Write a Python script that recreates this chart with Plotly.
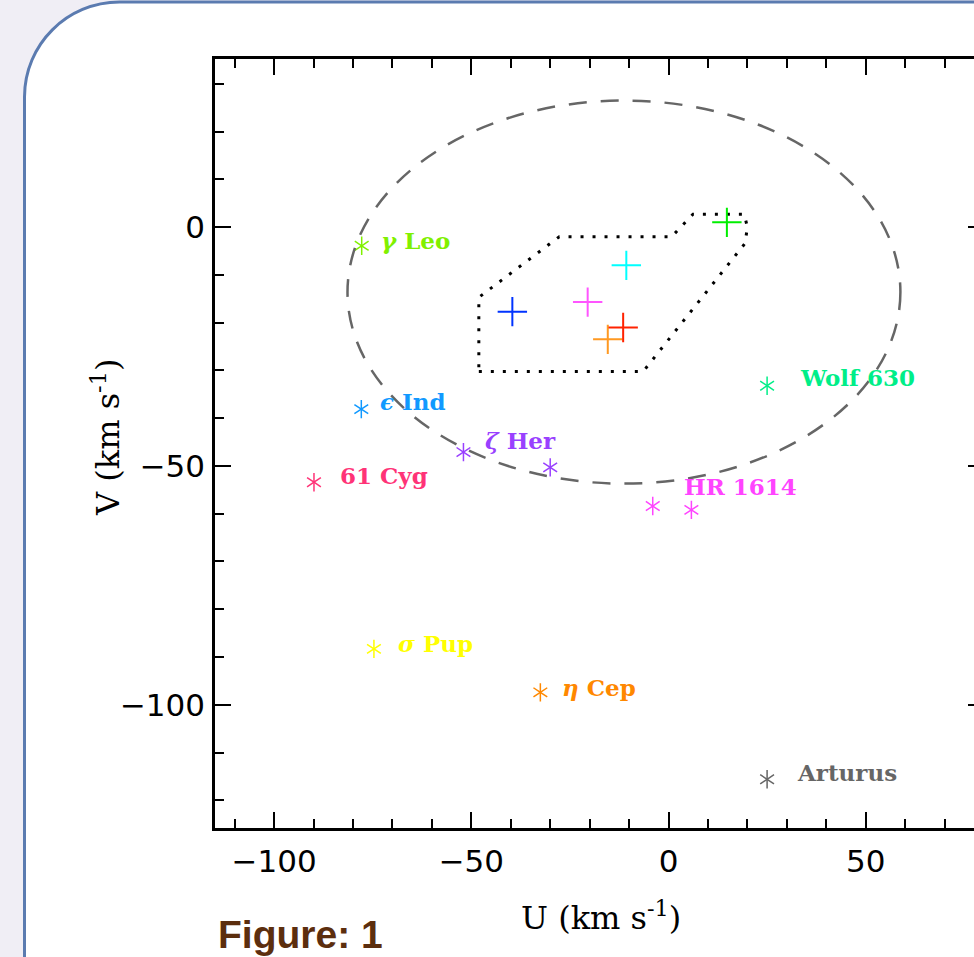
import plotly.graph_objects as go

# ---------------- data ----------------
star_labels = ["<i>γ</i> Leo", "<i>ϵ</i> Ind", "<i>ζ</i> Her", "61 Cyg", "HR 1614",
               "Wolf 630", "<i>σ</i> Pup", "<i>η</i> Cep", "Arturus"]
star_colors = ["#80f000", "#1199ff", "#9940ff", "#ff3377", "#ff44ff",
               "#00ee88", "#ffff00", "#ff8800", "#666666"]
star_u = [[-77.8], [-77.9], [-52.0, -30.0], [-89.9], [-4.0, 5.8],
          [25.0], [-74.7], [-32.5], [25.0]]
star_v = [[-3.9], [-38.1], [-47.1, -50.3], [-53.4], [-58.4, -59.2],
          [-33.2], [-88.3], [-97.4], [-115.6]]
label_u = [-73.4, -73.6, -47.0, -83.8, 3.5, 32.8, -69.1, -27.5, 32.1]
label_v = [-2.8, -36.5, -44.6, -51.9, -54.4, -31.4, -87.1, -96.3, -114.1]

cross_u = [-39.6, -20.5, -10.7, -15.4, -11.5, 14.8]
cross_v = [-17.7, -15.7, -8.0, -23.5, -21.0, 1.0]
cross_colors = ["#0033ff", "#ff55ff", "#00ffff", "#ff9922", "#ff2200", "#00ee00"]

poly_u = [-48.1, -6.4, 19.4, 20.0, 19.2, 6.2, 0.8, -27.7, -48.1, -48.1]
poly_v = [-30.2, -30.2, -3.4, 0.0, 2.7, 2.7, -2.0, -2.0, -14.7, -30.2]

ellipse_center = [-11.3, -13.6]
ellipse_semi = [70.1, 40.1]

x_range = [-115, 80]
y_range = [-125.8, 35.2]
x_tickvals = [-100, -50, 0, 50]
y_tickvals = [-100, -50, 0]

# ---------------- layout geometry ----------------
W, H = 1010, 957
ML, MT, PW, PH = 215, 59, 769, 769
MR = W - ML - PW
MB = H - MT - PH


def px2paper(px, py):
    return (px - ML) / PW, (MT + PH - py) / PH


fig = go.Figure()

# dotted region
fig.add_trace(go.Scatter(x=poly_u, y=poly_v, mode="lines",
                         line=dict(color="black", width=3, dash="3px,9px"),
                         hoverinfo="skip", showlegend=False))

# asterisks (6-armed, built from two 3-armed symbols)
all_u, all_v, all_c = [], [], []
for us, vs, c in zip(star_u, star_v, star_colors):
    for u, v in zip(us, vs):
        all_u.append(u)
        all_v.append(v)
        all_c.append(c)
for sym in ["y-up-open", "y-down-open"]:
    fig.add_trace(go.Scatter(x=all_u, y=all_v, mode="markers",
                             marker=dict(symbol=sym, size=11.5, color=all_c,
                                         line=dict(color=all_c, width=1.5)),
                             hoverinfo="skip", showlegend=False))

# crosses
for u, v, c in zip(cross_u, cross_v, cross_colors):
    fig.add_trace(go.Scatter(x=[u], y=[v], mode="markers",
                             marker=dict(symbol="cross-thin-open", size=21, color=c,
                                         line=dict(color=c, width=2)),
                             hoverinfo="skip", showlegend=False))

# dashed ellipse
fig.add_shape(type="circle", xref="x", yref="y",
              x0=ellipse_center[0] - ellipse_semi[0], x1=ellipse_center[0] + ellipse_semi[0],
              y0=ellipse_center[1] - ellipse_semi[1], y1=ellipse_center[1] + ellipse_semi[1],
              line=dict(color="#666666", width=2.5, dash="18px,14px"))

# star labels
for t, u, v, c in zip(star_labels, label_u, label_v, star_colors):
    fig.add_annotation(x=u, y=v, xref="x", yref="y", text="<b>" + t + "</b>",
                       showarrow=False, xanchor="left", yanchor="middle",
                       font=dict(family="DejaVu Serif", size=23, color=c))

# card background with rounded top-left corner
R = 95
k = 0.5523
cx0, cy0 = 24.5, 2
pts = [
    ("M", [(cx0, H + 20)]),
    ("L", [(cx0, cy0 + R)]),
    ("C", [(cx0, cy0 + R * (1 - k)), (cx0 + R * (1 - k), cy0), (cx0 + R, cy0)]),
    ("L", [(W + 20, cy0)]),
    ("L", [(W + 20, H + 20)]),
]
path = ""
for cmd, ps in pts:
    path += cmd + " ".join("%.5f,%.5f" % px2paper(a, b) for a, b in ps) + " "
path += "Z"
fig.add_shape(type="path", xref="paper", yref="paper", path=path,
              fillcolor="white", line=dict(color="#5b7bb0", width=3), layer="below")

# axis titles
ux, uy = px2paper(601, 916)
fig.add_annotation(x=ux, y=uy, xref="paper", yref="paper",
                   text="U (km s<sup>-1</sup>)", showarrow=False,
                   xanchor="center", yanchor="middle",
                   font=dict(family="DejaVu Serif", size=32, color="black"))
vx, vy = px2paper(106, 438)
fig.add_annotation(x=vx, y=vy, xref="paper", yref="paper",
                   text="V (km s<sup>-1</sup>)", showarrow=False, textangle=-90,
                   xanchor="center", yanchor="middle",
                   font=dict(family="DejaVu Serif", size=32, color="black"))

fx, fy = px2paper(216, 934)
fig.add_annotation(x=fx, y=fy, xref="paper", yref="paper",
                   text="<b>Figure: 1</b>", showarrow=False,
                   xanchor="left", yanchor="middle",
                   font=dict(family="Liberation Sans", size=39, color="#5c2e0e"))

axis_common = dict(showline=True, linecolor="black", linewidth=2.5, mirror="ticks",
                   ticks="inside", ticklen=16, tickwidth=2, tickcolor="black",
                   showgrid=False, zeroline=False,
                   tickfont=dict(family="DejaVu Sans", size=31, color="black"))

fig.update_xaxes(range=x_range, tickvals=x_tickvals, ticklabelstandoff=4,
                 minor=dict(ticks="inside", ticklen=9, tickwidth=2, tickcolor="black",
                            dtick=10, tick0=0, showgrid=False),
                 **axis_common)
fig.update_yaxes(range=y_range, tickvals=y_tickvals, ticklabelstandoff=1,
                 minor=dict(ticks="inside", ticklen=9, tickwidth=2, tickcolor="black",
                            dtick=10, tick0=0, showgrid=False),
                 **axis_common)

fig.update_layout(width=W, height=H, autosize=False,
                  margin=dict(l=ML, r=MR, t=MT, b=MB, pad=0),
                  paper_bgcolor="#f0eef5", plot_bgcolor="white",
                  showlegend=False)

fig.write_html("out.html", config={"displayModeBar": False},
               post_script="document.body.style.margin='0';"
                           "document.body.style.overflow='hidden';"
                           "document.documentElement.style.overflow='hidden';")
